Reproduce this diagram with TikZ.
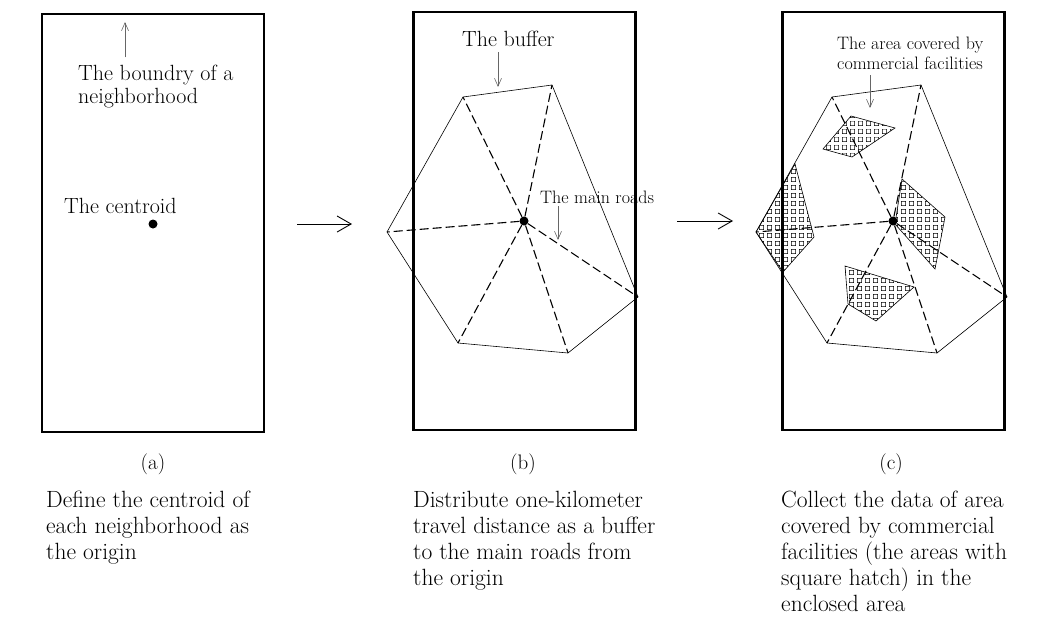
\documentclass[tikz,border=0pt]{standalone}
\usetikzlibrary{arrows.meta, positioning, patterns}

\pgfdeclarepatternformonly{squarehatch}{\pgfqpoint{0pt}{0pt}}{\pgfqpoint{7.5pt}{7.5pt}}{\pgfqpoint{7.5pt}{7.5pt}}{%
  \pgfsetlinewidth{0.5pt}%
  \pgfpathrectangle{\pgfqpoint{1.5pt}{1.5pt}}{\pgfqpoint{4.5pt}{4.5pt}}%
  \pgfusepath{stroke}}

\tikzset{
  frame/.style={draw, line width=2.4pt, minimum width=222pt, minimum height=418pt, inner sep=0pt},
  buffer/.style={draw, line width=0.6pt},
  road/.style={line width=1.1pt, dash pattern=on 9pt off 4pt},
  hatch/.style={draw, line width=0.6pt, pattern=squarehatch},
  pointer/.style={-{Straight Barb[length=8pt,width=7pt]}, line width=0.6pt, black!60},
  flow/.style={-{Straight Barb[length=14pt,width=16pt]}, line width=0.9pt},
  centroid/.style={circle, fill, inner sep=0pt, minimum size=9pt},
  tag/.style={font=\fontsize{22}{23}\selectfont, align=left, inner sep=0pt, anchor=base west},
  smalltag/.style={font=\fontsize{18}{20}\selectfont, align=left, inner sep=0pt, anchor=base west},
  caption/.style={font=\fontsize{21}{24}\selectfont, inner sep=0pt, anchor=base},
  note/.style={font=\fontsize{23.5}{26}\selectfont, align=left, inner sep=0pt, anchor=base west},
}

\begin{document}
\begin{tikzpicture}[x=1pt, y=-1pt]
\useasboundingbox (0,0) rectangle (1056,616);

% the three panels
\node[frame] (pa) at (153,223) {};
\node[frame] (pb) at (524.5,221) {};
\node[frame] (pc) at (893.5,221) {};

\node[centroid] (oa) at (153,224) {};
\node[centroid] (ob) at (524,221) {};
\node[centroid] (oc) at (893,221) {};

% buffer corners
\foreach \p/\cx in {b/524, c/893} {
  \coordinate (\p-tl) at (\cx-61,97);
  \coordinate (\p-tr) at (\cx+28,85);
  \coordinate (\p-r)  at (\cx+114,297);
  \coordinate (\p-br) at (\cx+44,353);
  \coordinate (\p-bl) at (\cx-66,343);
  \coordinate (\p-l)  at (\cx-137,232);
}

% commercial facilities
\draw[hatch] (851,116) -- (895,128) -- (852,157) -- (823,149) -- cycle;
\draw[hatch] (795,164) -- (814,237) -- (783,272) -- (c-l) -- cycle;
\draw[hatch] (902,179) -- (945,217) -- (935,269) -- (895,224) -- cycle;
\draw[hatch] (845,266) -- (914,287) -- (876,321) -- (848,304) -- cycle;

\foreach \p in {b,c} {
  \draw[buffer] (\p-tl) -- (\p-tr) -- (\p-r) -- (\p-br) -- (\p-bl) -- (\p-l) -- cycle;
  \foreach \v in {tl,tr,r,br,bl,l}
    \draw[road] (o\p) -- (\p-\v);
}

% labels
\node[tag] (bnd) at (78,103) {The boundry of a\\neighborhood};
\node[tag] (cen) at (64,213) {The centroid};
\node[tag] (buf) at (462,46) {The buffer};
\node[smalltag] (roads) at (540,203) {The main roads};
\node[smalltag] (area) at (837,69) {The area covered by\\commercial facilities};

\coordinate (tipa) at (125,22);
\coordinate (tipb) at (498,87);
\coordinate (tipr) at (558,240);
\coordinate (tipc) at (870,108);
\draw[pointer, shorten <=7pt] (bnd.north -| tipa) -- (tipa);
\draw[pointer, shorten <=6pt] (buf.south -| tipb) -- (tipb);
\draw[pointer, shorten <=3pt] (roads.south -| tipr) -- (tipr);
\draw[pointer, shorten <=6pt] (area.south -| tipc) -- (tipc);

% flow between panels
\coordinate (ab1) at (297,224);
\coordinate (ab2) at (352,224);
\coordinate (bc1) at (677,221);
\coordinate (bc2) at (733,221);
\draw[flow] (ab1) -- (ab2);
\draw[flow] (bc1) -- (bc2);

% captions
\node[caption] (capa) at (153,469) {(a)};
\node[caption] (capb) at (523,469) {(b)};
\node[caption] (capc) at (891,469) {(c)};

\node[note] (txta) at (46,559) {Define the centroid of\\each neighborhood as\\the origin};
\node[note] (txtb) at (413,585) {Distribute one-kilometer\\travel distance as a buffer\\to the main roads from\\the origin};
\node[note] (txtc) at (781,611) {Collect the data of area\\covered by commercial\\facilities (the areas with\\square hatch) in the\\enclosed area};
\end{tikzpicture}
\end{document}
